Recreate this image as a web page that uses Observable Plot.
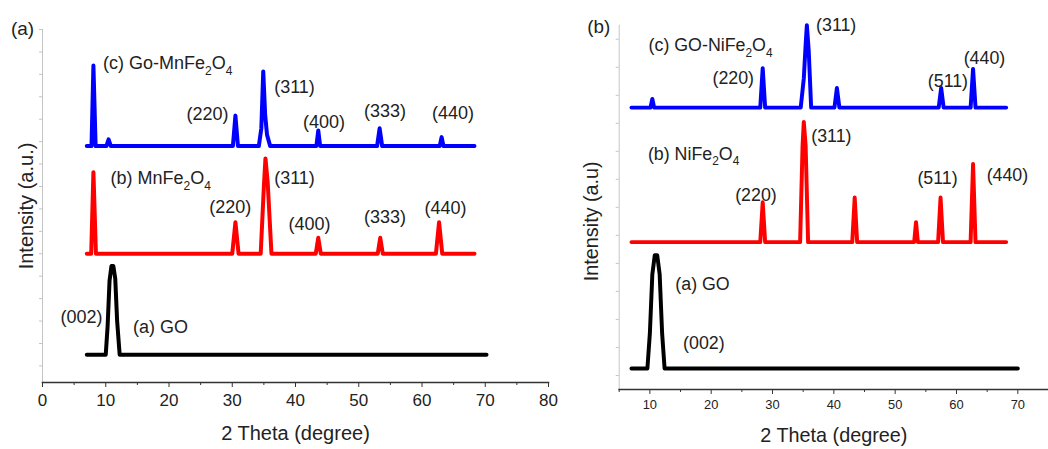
<!DOCTYPE html>
<html>
<head>
<meta charset="utf-8">
<script src="https://cdn.jsdelivr.net/npm/d3@7"></script>
<script src="https://cdn.jsdelivr.net/npm/@observablehq/plot@0.6"></script>
<style>
  html, body { margin: 0; padding: 0; background: #fff; overflow: hidden; }
  #wrap { position: relative; width: 1048px; height: 449px; overflow: hidden; }
  #pa, #pb { position: absolute; top: 0; }
  #pa { left: 0; }
  #pb { left: 560px; }
</style>
</head>
<body>
<div id="wrap"><div id="pa"></div><div id="pb"></div></div>
<script>
// ---------- Panel (a): MnFe2O4 ----------
const xGO_A = [7.0, 10.0, 10.3, 10.6, 10.9, 11.2, 11.5, 11.8, 12.2, 70.2];
const yGO_A = [0.5, 0.5, 1.8, 3.8, 4.45, 4.45, 3.9, 2.0, 0.5, 0.5];

const xMn_A = [7.0, 7.7, 8.05, 8.45, 30.0, 30.5, 31.0, 34.5, 35.0, 35.25, 35.6, 36.2, 43.2, 43.6, 44.0, 53.0, 53.4, 53.8, 62.2, 62.7, 63.2, 68.3];
const yMn_A = [5.0, 5.0, 8.64, 5.0, 5.0, 6.41, 5.0, 5.0, 8.0, 9.25, 8.2, 5.0, 5.0, 5.71, 5.0, 5.0, 5.71, 5.0, 5.0, 6.41, 5.0, 5.0];

const xGOMn_A = [7.0, 7.75, 8.05, 8.4, 10.1, 10.45, 10.8, 30.1, 30.5, 30.9, 34.2, 34.6, 34.9, 35.2, 35.5, 36.0, 43.3, 43.6, 43.9, 52.9, 53.3, 53.7, 62.8, 63.1, 63.4, 68.3];
const yGOMn_A = [9.8, 9.8, 13.39, 9.8, 9.8, 10.1, 9.8, 9.8, 11.16, 9.8, 9.8, 10.6, 13.13, 11.2, 10.3, 9.8, 9.8, 10.5, 9.8, 9.8, 10.6, 9.8, 9.8, 10.2, 9.8, 9.8];

const nameA = ["(c) Go-MnFe_2O_4", "(b) MnFe_2O_4", "(a) GO"];
const nameXA = [9.57, 10.75, 14.3];
const nameYA = [13.5, 8.35, 1.71];

const hklA = ["(311)", "(220)", "(400)", "(333)", "(440)", "(311)", "(220)", "(400)", "(333)", "(440)", "(002)"];
const hklXA = [39.84, 26.09, 44.5, 54.15, 64.9, 39.84, 29.7, 42.2, 54.15, 63.7, 6.17];
const hklYA = [12.41, 11.21, 10.85, 11.34, 11.25, 8.35, 7.06, 6.3, 6.62, 7.02, 2.17];

const xMajorA = [0, 10, 20, 30, 40, 50, 60, 70, 80];
const xMinorA = [5, 15, 25, 35, 45, 55, 65, 75];
const yTicksA = [0, 1, 2, 3, 4, 5, 6, 7, 8, 9, 10, 11, 12, 13, 14, 15];

// ---------- Panel (b): NiFe2O4 ----------
const xGO_B = [7.0, 9.6, 10.0, 10.4, 10.8, 11.2, 11.6, 12.0, 12.4, 70.0];
const yGO_B = [0.25, 0.25, 1.5, 3.6, 4.29, 4.29, 3.6, 1.5, 0.25, 0.25];

const xNi_B = [7.0, 28.0, 28.4, 28.8, 34.5, 34.9, 35.1, 35.4, 35.8, 43.0, 43.4, 43.8, 53.1, 53.4, 53.7, 57.0, 57.4, 57.8, 62.3, 62.7, 63.1, 68.1];
const yNi_B = [4.76, 4.76, 6.18, 4.76, 4.76, 8.2, 9.05, 8.2, 4.76, 4.76, 6.35, 4.76, 4.76, 5.47, 4.76, 4.76, 6.35, 4.76, 4.76, 7.55, 4.76, 4.76];

const xGONi_B = [7.0, 10.1, 10.4, 10.7, 28.0, 28.4, 28.8, 34.6, 35.1, 35.4, 35.6, 35.9, 36.3, 40.1, 40.5, 40.9, 57.1, 57.5, 57.9, 62.3, 62.7, 63.1, 68.1];
const yGONi_B = [9.56, 9.56, 9.87, 9.56, 9.56, 10.97, 9.56, 9.56, 10.6, 11.8, 12.5, 11.6, 9.56, 9.56, 10.26, 9.56, 9.56, 10.26, 9.56, 9.56, 10.94, 9.56, 9.56];

const nameB = ["(c) GO-NiFe_2O_4", "(b) NiFe_2O_4", "(a) GO"];
const nameXB = [9.79, 9.68, 14.15];
const nameYB = [11.79, 7.91, 3.25];

const hklB = ["(311)", "(220)", "(511)", "(440)", "(311)", "(220)", "(511)", "(440)", "(002)"];
const hklXB = [40.38, 23.6, 58.6, 64.56, 39.6, 27.3, 56.9, 68.3, 18.8];
const hklYB = [12.5, 10.62, 10.5, 11.32, 8.53, 6.43, 7.02, 7.14, 1.16];

const xMajorB = [10, 20, 30, 40, 50, 60, 70];
const xMinorB = [5, 15, 25, 35, 45, 55, 65, 75];
const yTicksB = [0, 1, 2, 3, 4, 5, 6, 7, 8, 9, 10, 11, 12];

const FONT = "'Liberation Sans', Arial, Helvetica, sans-serif";
const zipXY = (xs, ys) => xs.map((x, i) => ({x, y: ys[i]}));
const zipT = (ts, xs, ys) => ts.map((t, i) => ({t, x: xs[i], y: ys[i]}));

function subscripts(svg, subSize, shift) {
  svg.querySelectorAll("text").forEach(t => {
    const s = t.textContent;
    if (!s.includes("_")) return;
    while (t.firstChild) t.removeChild(t.firstChild);
    const parts = s.split(/(_\d)/);
    let lowered = false;
    const ns = "http://www.w3.org/2000/svg";
    parts.forEach(p => {
      if (!p) return;
      const ts = document.createElementNS(ns, "tspan");
      if (p.startsWith("_")) {
        ts.textContent = p.slice(1);
        ts.setAttribute("font-size", subSize);
        if (!lowered) { ts.setAttribute("dy", shift); lowered = true; }
      } else {
        ts.textContent = p;
        if (lowered) { ts.setAttribute("dy", -shift); lowered = false; }
      }
      t.appendChild(ts);
    });
  });
}

function panel(o) {
  const svg = Plot.plot({
    width: o.width, height: 449,
    marginLeft: o.ml, marginRight: o.mr, marginTop: o.mt, marginBottom: o.mb,
    x: {domain: o.xDomain},
    y: {domain: o.yDomain},
    style: {fontFamily: FONT, background: "transparent", overflow: "visible", color: "#222"},
    marks: [
      Plot.frame({anchor: "left", stroke: "#c4c4c4", strokeWidth: 1}),
      Plot.axisY({ticks: o.yTicks, tickSize: 3, tickFormat: () => "", label: null, stroke: "#c4c4c4"}),
      Plot.axisX({ticks: o.xMinor, tickSize: 3, tickFormat: () => "", label: null, stroke: "#333"}),
      Plot.axisX({ticks: o.xMajor, tickSize: 5, tickPadding: o.tickPad, fontSize: o.tickFont, label: null, stroke: "#333", fill: "#222"}),
      Plot.frame({anchor: "bottom", stroke: "#333", strokeWidth: 1.6}),
      ...o.traces.map(tr => Plot.line(zipXY(tr.x, tr.y), {x: "x", y: "y", stroke: tr.c, strokeWidth: 4, strokeLinejoin: "round", strokeLinecap: "round"})),
      Plot.text(zipT(o.names, o.nameX, o.nameY), {x: "x", y: "y", text: "t", textAnchor: "start", lineAnchor: "middle", fontSize: 18, fill: "#222"}),
      Plot.text(zipT(o.hkl, o.hklX, o.hklY), {x: "x", y: "y", text: "t", textAnchor: "middle", lineAnchor: "middle", fontSize: 18, fill: "#222"}),
      Plot.text([o.letter], {frameAnchor: "top-left", dx: o.letterDx, dy: o.letterDy, textAnchor: "middle", lineAnchor: "middle", fontSize: 19, fill: "#222"}),
      Plot.text(["2 Theta (degree)"], {frameAnchor: "bottom", dy: o.xTitleDy, lineAnchor: "middle", fontSize: 20, fill: "#222"}),
      Plot.text([o.yTitle], {frameAnchor: "left", dx: o.yTitleDx, dy: o.yTitleDy, rotate: -90, textAnchor: "middle", lineAnchor: "middle", fontSize: 20, fill: "#222"})
    ]
  });
  subscripts(svg, 12, 6);
  return svg;
}

document.getElementById("pa").appendChild(panel({
  width: 560, ml: 42, mr: 12, mt: 29, mb: 67,
  xDomain: [0, 80], yDomain: [-0.74, 15],
  xMajor: xMajorA, xMinor: xMinorA, yTicks: yTicksA, tickFont: 17, tickPad: 6,
  traces: [
    {x: xGO_A, y: yGO_A, c: "#000000"},
    {x: xMn_A, y: yMn_A, c: "#ff0000"},
    {x: xGOMn_A, y: yGOMn_A, c: "#0000ff"}
  ],
  names: nameA, nameX: nameXA, nameY: nameYA,
  hkl: hklA, hklX: hklXA, hklY: hklYA,
  letter: "(a)", letterDx: -20, letterDy: -1,
  xTitleDy: 51, yTitle: "Intensity (a.u.)", yTitleDx: -15.5, yTitleDy: 0
}));

document.getElementById("pb").appendChild(panel({
  width: 493, ml: 59.3, mr: 0, mt: 25, mb: 56,
  xDomain: [5, 75], yDomain: [-0.5, 12.5],
  xMajor: xMajorB, xMinor: xMinorB, yTicks: yTicksB, tickFont: 13, tickPad: 5,
  traces: [
    {x: xGO_B, y: yGO_B, c: "#000000"},
    {x: xNi_B, y: yNi_B, c: "#ff0000"},
    {x: xGONi_B, y: yGONi_B, c: "#0000ff"}
  ],
  names: nameB, nameX: nameXB, nameY: nameYB,
  hkl: hklB, hklX: hklXB, hklY: hklYB,
  letter: "(b)", letterDx: -20.6, letterDy: 2,
  xTitleDy: 47, yTitle: "Intensity (a.u)", yTitleDx: -27.6, yTitleDy: 14
}));
</script>
</body>
</html>
